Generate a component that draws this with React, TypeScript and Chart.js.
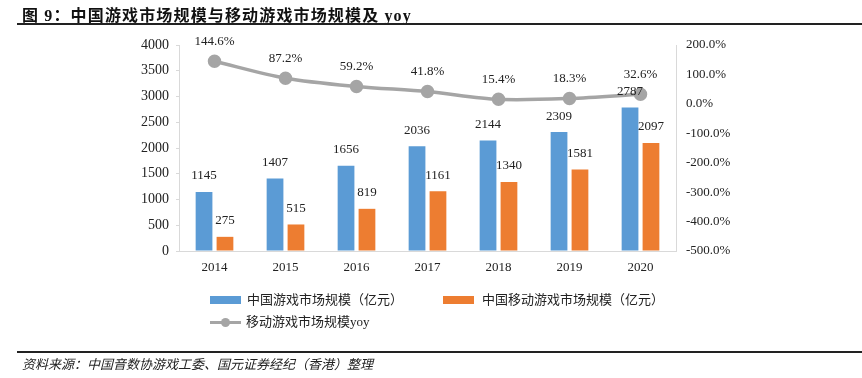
import React, { useEffect, useRef } from "react";
import { Chart, registerables } from "chart.js";

Chart.register(...registerables);

const categories = ["2014", "2015", "2016", "2017", "2018", "2019", "2020"];
const gameMarket = [1145, 1407, 1656, 2036, 2144, 2309, 2787];
const mobileMarket = [275, 515, 819, 1161, 1340, 1581, 2097];
const mobileYoy = [144.6, 87.2, 59.2, 41.8, 15.4, 18.3, 32.6];

const SERIF = "'Liberation Serif', 'Times New Roman', 'Noto Sans CJK SC', serif";
const CJK = "'Liberation Serif', 'Noto Sans CJK SC', serif";
const BLUE = "#5b9bd5";
const ORANGE = "#ed7d31";
const GRAY = "#a5a5a5";

const labelPlugin = {
  id: "valueLabels",
  afterDatasetsDraw(chart: any) {
    const ctx = chart.ctx;
    ctx.save();
    ctx.font = "13px " + SERIF;
    ctx.fillStyle = "#222";
    ctx.textAlign = "center";
    ctx.textBaseline = "middle";
    chart.data.datasets.forEach((ds: any, i: number) => {
      const meta = chart.getDatasetMeta(i);
      meta.data.forEach((el: any, j: number) => {
        const v = ds.data[j];
        if (ds.type === "line") {
          ctx.fillText(v.toFixed(1) + "%", el.x, el.y - 20);
        } else {
          ctx.fillText(String(v), el.x, el.y - 16);
        }
      });
    });
    ctx.restore();
  },
};

export default function App() {
  const ref = useRef<HTMLCanvasElement>(null);
  useEffect(() => {
    const chart = new Chart(ref.current as HTMLCanvasElement, {
      type: "bar",
      data: {
        labels: categories,
        datasets: [
          {
            type: "line",
            label: "移动游戏市场规模yoy",
            data: mobileYoy,
            yAxisID: "y1",
            borderColor: GRAY,
            backgroundColor: GRAY,
            borderWidth: 3.5,
            pointRadius: 5,
            pointBackgroundColor: GRAY,
            pointBorderColor: GRAY,
            tension: 0.3,
            order: 0,
          } as any,
          {
            type: "bar",
            label: "中国游戏市场规模（亿元）",
            data: gameMarket,
            yAxisID: "y",
            backgroundColor: BLUE,
            barPercentage: 0.8,
            categoryPercentage: 0.59,
            order: 1,
          },
          {
            type: "bar",
            label: "中国移动游戏市场规模（亿元）",
            data: mobileMarket,
            yAxisID: "y",
            backgroundColor: ORANGE,
            barPercentage: 0.8,
            categoryPercentage: 0.59,
            order: 2,
          },
        ],
      },
      options: {
        responsive: false,
        animation: false,
        devicePixelRatio: 1,
        layout: { padding: { top: 45, left: 0, right: 0, bottom: 0 } },
        plugins: {
          legend: { display: false },
          tooltip: { enabled: false },
          title: { display: false },
        },
        scales: {
          x: {
            grid: { display: false, drawTicks: false },
            border: { color: "#d9d9d9", width: 1 },
            ticks: { color: "#222", font: { family: SERIF, size: 13 }, padding: 9 },
            afterFit: (s: any) => {
              s.height = 127;
            },
          },
          y: {
            position: "left",
            min: 0,
            max: 4000,
            grid: { drawOnChartArea: false, drawTicks: true, tickLength: 3, color: "#d9d9d9" },
            border: { color: "#d9d9d9", width: 1 },
            ticks: {
              stepSize: 500,
              color: "#222",
              font: { family: SERIF, size: 14 },
              padding: 7,
              callback: (v: any) => String(v),
            },
            afterFit: (s: any) => {
              s.width = 179;
            },
          },
          y1: {
            position: "right",
            min: -500,
            max: 200,
            grid: { display: false, drawTicks: false },
            border: { color: "#d9d9d9", width: 1 },
            ticks: {
              stepSize: 100,
              color: "#222",
              font: { family: SERIF, size: 13 },
              padding: 10,
              callback: (v: any) => Number(v).toFixed(1) + "%",
            },
            afterFit: (s: any) => {
              s.width = 186;
            },
          },
        },
      },
      plugins: [labelPlugin],
    });
    return () => chart.destroy();
  }, []);

  const abs = (o: any) => ({ position: "absolute" as const, ...o });

  return (
    <div style={{ position: "absolute", left: 0, top: 0, width: 862, height: 378, background: "#fff", overflow: "hidden" }}>
      <canvas ref={ref} width={862} height={378} style={{ position: "absolute", left: 0, top: 0 }} />
      <div style={abs({ left: 22, top: 2, fontFamily: CJK, fontWeight: "bold", fontSize: 16, letterSpacing: 1.15, color: "#111", whiteSpace: "nowrap" })}>
        图 9：中国游戏市场规模与移动游戏市场规模及 yoy
      </div>
      <div style={abs({ left: 17, top: 23, width: 845, height: 2, background: "#222" })} />
      {/* legend */}
      <div style={abs({ left: 210, top: 296, width: 31, height: 8, background: BLUE })} />
      <div style={abs({ left: 247, top: 291, fontFamily: CJK, fontSize: 13, color: "#222", whiteSpace: "nowrap", lineHeight: "18px" })}>
        中国游戏市场规模（亿元）
      </div>
      <div style={abs({ left: 443, top: 296, width: 31, height: 8, background: ORANGE })} />
      <div style={abs({ left: 482, top: 291, fontFamily: CJK, fontSize: 13, color: "#222", whiteSpace: "nowrap", lineHeight: "18px" })}>
        中国移动游戏市场规模（亿元）
      </div>
      <div style={abs({ left: 210, top: 321, width: 31, height: 3, background: GRAY })} />
      <div style={abs({ left: 221, top: 318, width: 9, height: 9, borderRadius: 5, background: GRAY })} />
      <div style={abs({ left: 246, top: 313, fontFamily: CJK, fontSize: 13, color: "#222", whiteSpace: "nowrap", lineHeight: "18px" })}>
        移动游戏市场规模yoy
      </div>
      <div style={abs({ left: 17, top: 351, width: 845, height: 1.5, background: "#222" })} />
      <div style={abs({ left: 22, top: 356, fontFamily: CJK, fontStyle: "italic", fontSize: 13, color: "#222", whiteSpace: "nowrap", lineHeight: "18px" })}>
        资料来源：中国音数协游戏工委、国元证券经纪（香港）整理
      </div>
    </div>
  );
}
